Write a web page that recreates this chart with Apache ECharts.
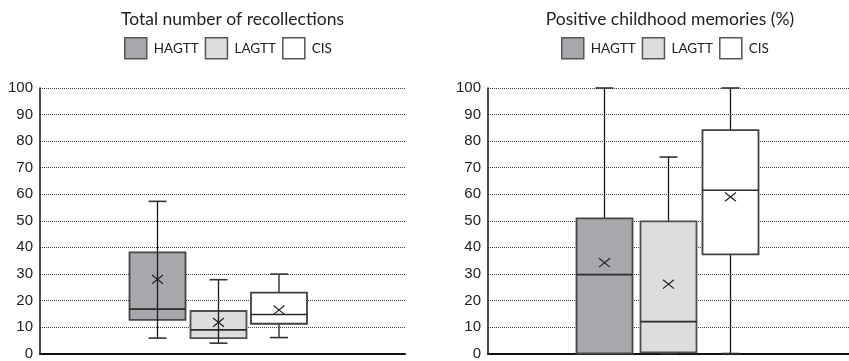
<!DOCTYPE html>
<html><head><meta charset="utf-8">
<script src="https://cdn.jsdelivr.net/npm/echarts@6/dist/echarts.min.js"></script>
<style>html,body{margin:0;padding:0;background:#fff}#c{width:849px;height:361px}</style>
</head><body><div id="c"></div>
<script>
// ---- data ----
const groups = ['HAGTT', 'LAGTT', 'CIS'];
const titleLeft = 'Total number of recollections';
const titleRight = 'Positive childhood memories (%)';
// Total number of recollections
const recallMin    = [5.8, 3.9, 6.0];
const recallQ1     = [12.7, 5.8, 11.2];
const recallMedian = [16.7, 8.9, 14.7];
const recallQ3     = [38.1, 16.0, 22.9];
const recallMax    = [57.3, 27.8, 29.9];
const recallMean   = [27.9, 11.7, 16.4];
// Positive childhood memories (%)
const positiveMin    = [0, 0, 0];
const positiveQ1     = [0, 0.4, 37.3];
const positiveMedian = [29.7, 12.0, 61.5];
const positiveQ3     = [50.9, 49.8, 84.1];
const positiveMax    = [100, 74, 100];
const positiveMean   = [34.2, 26.1, 59.0];

// ---- styling ----
const fills = ['#a7a8ab', '#dcddde', '#ffffff'];
const borders = ['#454545', '#4f4f4f', '#404040'];
const leftOffsets = [-65, -4, 56.5];
const rightOffsets = [-64, 0, 62];
const leftThrough = [true, true, false];
const BOX_W = 56, CAP_W = 18, X_HALF = 5.5;

function makeRender(offset, fill, border, through) {
  return function (params, api) {
    const base = api.coord([0, 0]);
    const cx = base[0] + offset;
    const y = i => api.coord([0, api.value(i)])[1];
    const yMin = y(1), yQ1 = y(2), yMed = y(3), yQ3 = y(4), yMax = y(5), yMean = y(6);
    const ws = { stroke: '#1a1a1a', lineWidth: 1.3 };
    const whiskers = through
      ? [{ type: 'line', shape: { x1: cx, y1: yMax, x2: cx, y2: yMin }, style: ws, z2: 5 }]
      : [{ type: 'line', shape: { x1: cx, y1: yMax, x2: cx, y2: yQ3 }, style: ws },
         { type: 'line', shape: { x1: cx, y1: yQ1, x2: cx, y2: yMin }, style: ws }];
    const children = [
      { type: 'rect', shape: { x: cx - BOX_W / 2, y: yQ3, width: BOX_W, height: yQ1 - yQ3 },
        style: { fill: fill, stroke: border, lineWidth: 1.8 }, z2: 1 },
      ...whiskers,
      { type: 'line', shape: { x1: cx - CAP_W / 2, y1: yMax, x2: cx + CAP_W / 2, y2: yMax }, style: { stroke: '#333', lineWidth: 1.6 } },
      { type: 'line', shape: { x1: cx - CAP_W / 2, y1: yMin, x2: cx + CAP_W / 2, y2: yMin }, style: { stroke: '#333', lineWidth: 1.6 } },
      { type: 'line', shape: { x1: cx - BOX_W / 2, y1: yMed, x2: cx + BOX_W / 2, y2: yMed }, style: { stroke: '#2a2a2a', lineWidth: 1.6 }, z2: 3 },
      { type: 'line', shape: { x1: cx - X_HALF, y1: yMean - X_HALF * 0.8, x2: cx + X_HALF, y2: yMean + X_HALF * 0.8 }, style: { stroke: '#222', lineWidth: 1.2 }, z2: 6 },
      { type: 'line', shape: { x1: cx - X_HALF, y1: yMean + X_HALF * 0.8, x2: cx + X_HALF, y2: yMean - X_HALF * 0.8 }, style: { stroke: '#222', lineWidth: 1.2 }, z2: 6 }
    ];
    return { type: 'group', children: children };
  };
}

function buildSeries(gridIdx, mins, q1s, meds, q3s, maxs, means, offsets, through) {
  return groups.map((g, i) => ({
    name: g,
    type: 'custom',
    xAxisIndex: gridIdx, yAxisIndex: gridIdx,
    itemStyle: { color: fills[i], borderColor: borders[i] },
    encode: { x: 0, y: [1, 2, 3, 4, 5] },
    data: [[0, mins[i], q1s[i], meds[i], q3s[i], maxs[i], means[i]]],
    renderItem: makeRender(offsets[i], fills[i], borders[i], through[i]),
    clip: false,
    silent: true
  }));
}

const legendData = groups.map((g, i) => ({
  name: g, icon: 'rect',
  itemStyle: { color: fills[i], borderColor: '#555', borderWidth: 1.5 }
}));

const FONT_T = 'Lato';
function yAxis(gridIndex) {
  return {
    type: 'value', gridIndex: gridIndex, min: 0, max: 100, interval: 10,
    axisLine: { show: true, lineStyle: { color: '#111', width: 1.5 } },
    axisTick: { show: false },
    axisLabel: { color: '#222', fontSize: 15, fontFamily: 'Liberation Sans', margin: 7 },
    splitLine: { show: true, lineStyle: { color: '#444', width: 1, type: [1, 1] } }
  };
}
function xAxis(gridIndex) {
  return {
    type: 'category', gridIndex: gridIndex, data: [''],
    axisLine: { show: true, lineStyle: { color: '#111', width: 2 } },
    axisTick: { show: false }, axisLabel: { show: false }
  };
}
function legend(left) {
  return { left: left, top: 37, itemWidth: 22, itemHeight: 21, itemGap: 6, padding: 0,
    data: legendData, selectedMode: false,
    textStyle: { fontFamily: FONT_T, fontSize: 13.5, color: '#222', padding: [0, 0, 0, 2] } };
}

const chart = echarts.init(document.getElementById('c'), null, { renderer: 'canvas' });
chart.setOption({
  animation: false,
  title: [
    { text: titleLeft, left: 227.5, top: 5, textAlign: 'center',
      textStyle: { fontFamily: FONT_T, fontSize: 17.5, fontWeight: 'normal', color: '#222' } },
    { text: titleRight, left: 665, top: 5, textAlign: 'center',
      textStyle: { fontFamily: FONT_T, fontSize: 17.5, fontWeight: 'normal', color: '#222' } }
  ],
  legend: [legend(124), legend(561)],
  grid: [
    { left: 40, width: 365, top: 88, height: 272 },
    { left: 488, width: 361, top: 88, height: 272 }
  ],
  xAxis: [xAxis(0), xAxis(1)],
  yAxis: [yAxis(0), yAxis(1)],
  series: [
    ...buildSeries(0, recallMin, recallQ1, recallMedian, recallQ3, recallMax, recallMean, leftOffsets, leftThrough),
    ...buildSeries(1, positiveMin, positiveQ1, positiveMedian, positiveQ3, positiveMax, positiveMean, rightOffsets, [false, false, false])
  ]
});
</script>
</body></html>
